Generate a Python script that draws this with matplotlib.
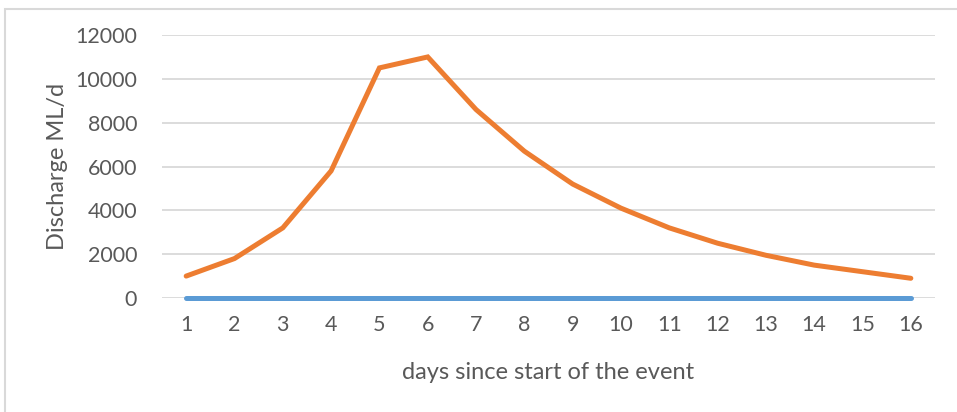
import matplotlib.pyplot as plt
from matplotlib.patches import Rectangle

plt.rcParams['font.family'] = ['Lato', 'DejaVu Sans']

# data
days = list(range(1, 17))
discharge_event = [1000, 1800, 3200, 5800, 10500, 11000, 8600, 6700,
                   5200, 4100, 3200, 2500, 1950, 1500, 1200, 900]
discharge_base = [0] * 16

text_color = '#595959'
grid_color = '#d9d9d9'

fig = plt.figure(figsize=(9.57, 4.12), dpi=100)
ax = fig.add_axes([0.1693, 0.2767, 0.8077, 0.6383])

ax.plot(days, discharge_base, color='#5B9BD5', linewidth=3.6, solid_capstyle='round',
        clip_on=False, zorder=3)
ax.plot(days, discharge_event, color='#ED7D31', linewidth=3.6, solid_capstyle='round',
        solid_joinstyle='miter', clip_on=False, zorder=4)

ax.set_xlim(0.5, 16.5)
ax.set_ylim(0, 12000)
ax.set_yticks(range(0, 12001, 2000))
ax.set_xticks(days)
ax.yaxis.grid(True, color=grid_color, linewidth=1.3)
ax.set_axisbelow(True)
for s in ax.spines.values():
    s.set_visible(False)
ax.tick_params(length=0, labelsize=15.5, colors=text_color)
ax.tick_params(axis='x', pad=12)
ax.tick_params(axis='y', pad=18)

ax.set_xlabel('days since start of the event', fontsize=17, color=text_color, labelpad=20)
ax.set_ylabel('Discharge ML/d', fontsize=17, color=text_color, labelpad=5)

# chart frame
fig.patches.append(Rectangle((0.005, -0.1), 1.1, 1.078, transform=fig.transFigure,
                             fill=False, edgecolor=grid_color, linewidth=1.5))

fig.savefig('out.png', dpi=100)
